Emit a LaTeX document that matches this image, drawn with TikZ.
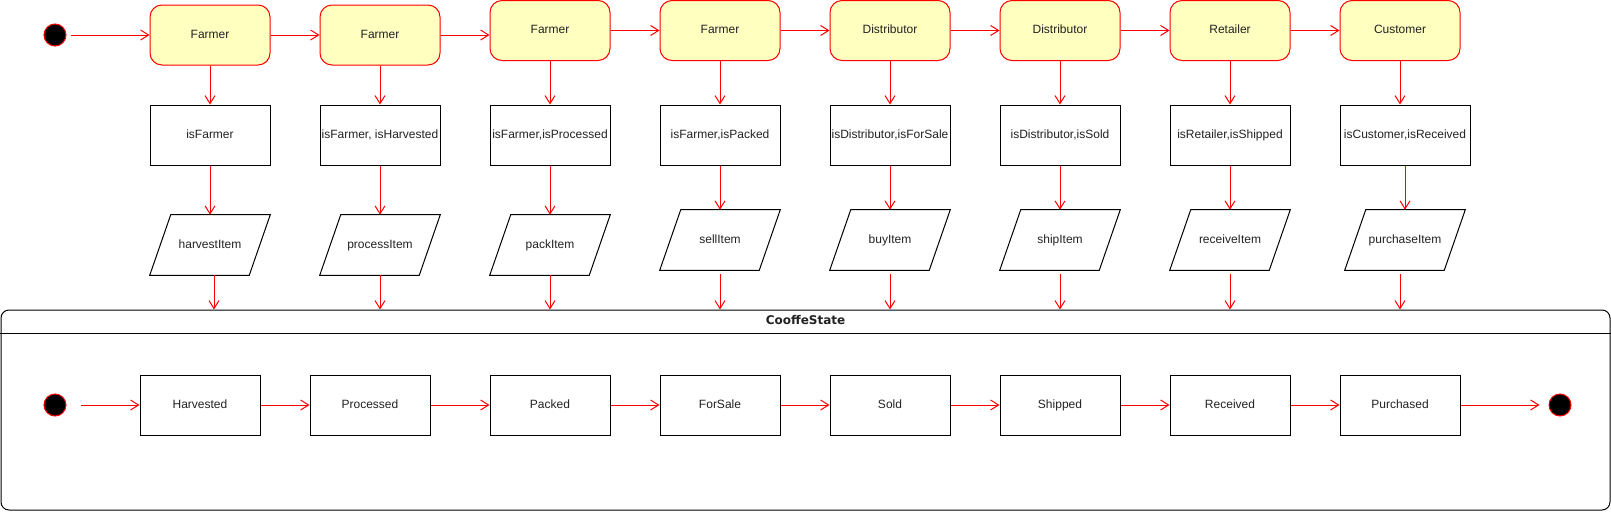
\documentclass[tikz,border=0pt]{standalone}
\usepackage{fontspec}
\setmainfont{Liberation Sans}
\newfontfamily\titlefont{DejaVu Sans}
\usetikzlibrary{arrows.meta,calc}
\definecolor{lnred}{HTML}{FF0000}
\definecolor{stfill}{HTML}{FFFFC0}
\definecolor{txtgray}{HTML}{222222}
\begin{document}
\begin{tikzpicture}[x=0.75pt,y=-0.75pt,
  every node/.style={font=\fontsize{9pt}{11pt}\selectfont, text=txtgray, text height=6.6pt, text depth=1.9pt},
  actor/.style={draw=lnred, fill=stfill, rounded corners=9pt, minimum width=90pt, minimum height=45pt, inner sep=0pt, line width=0.75pt},
  guard/.style={draw=black, minimum width=90pt, minimum height=45pt, inner sep=0pt, line width=0.75pt},
  paranode/.style={minimum width=90pt, minimum height=45pt, inner sep=0pt},
  stbox/.style={draw=black, minimum width=90pt, minimum height=45pt, inner sep=0pt, line width=0.75pt},
  dot/.style={circle, fill=black, draw=lnred, minimum size=16.5pt, inner sep=0pt, line width=0.75pt},
  flow/.style={draw=lnred, line width=0.75pt, -{Straight Barb[length=6pt,width=7.5pt]}},
]
\useasboundingbox (0,0) rectangle (1611,511);

% top row: actors
\node[dot] (init1) at (55,35) {};
\node[actor] (F1) at (210,35) {Farmer};
\node[actor] (F2) at (380,35) {Farmer};
\node[actor] (F3) at (550,30.5) {Farmer};
\node[actor] (F4) at (720,30.5) {Farmer};
\node[actor] (F5) at (890,30.5) {Distributor};
\node[actor] (F6) at (1060,30.5) {Distributor};
\node[actor] (F7) at (1230,30.5) {Retailer};
\node[actor] (F8) at (1400,30.5) {Customer};

% guards
\node[guard] (C1) at (210,135) {isFarmer};
\node[guard] (C2) at (380,135) {isFarmer, isHarvested};
\node[guard] (C3) at (550,135) {isFarmer,isProcessed};
\node[guard] (C4) at (720,135) {isFarmer,isPacked};
\node[guard] (C5) at (890,135) {isDistributor,isForSale};
\node[guard] (C6) at (1060,135) {isDistributor,isSold};
\node[guard] (C7) at (1230,135) {isRetailer,isShipped};
\node[guard, minimum width=97.5pt] (C8) at (1405,135) {isCustomer,isReceived};

% functions (parallelograms)
\node[paranode] (P1) at (210,245) {harvestItem};
\node[paranode] (P2) at (380,245) {processItem};
\node[paranode] (P3) at (550,245) {packItem};
\node[paranode] (P4) at (720,240) {sellItem};
\node[paranode] (P5) at (890,240) {buyItem};
\node[paranode] (P6) at (1060,240) {shipItem};
\node[paranode] (P7) at (1230,240) {receiveItem};
\node[paranode] (P8) at (1405,240) {purchaseItem};
\foreach \p in {P1,P2,P3,P4,P5,P6,P7,P8}
  \draw[line width=0.75pt] ($(\p.north west)+(21,0)$) -- (\p.north east) -- ($(\p.south east)-(21,0)$) -- (\p.south west) -- cycle;

% container
\node[draw=black, rounded corners=6pt, minimum width=1206.75pt, minimum height=150pt, inner sep=0pt, line width=0.75pt] (cs) at (805.5,410) {};
\coordinate (hl) at (0,333);
\draw[line width=0.75pt] (cs.west |- hl) -- (cs.east |- hl);
\node[font=\titlefont\bfseries\fontsize{9pt}{11pt}\selectfont] (cstitle) at (805.5,321.5) {CooffeState};

% inner states
\node[dot] (init2) at (55,405) {};
\node[stbox] (S1) at (200,405) {Harvested};
\node[stbox] (S2) at (370,405) {Processed};
\node[stbox] (S3) at (550,405) {Packed};
\node[stbox] (S4) at (720,405) {ForSale};
\node[stbox] (S5) at (890,405) {Sold};
\node[stbox] (S6) at (1060,405) {Shipped};
\node[stbox] (S7) at (1230,405) {Received};
\node[stbox] (S8) at (1400,405) {Purchased};
\node[dot] (final) at (1560,405) {};

% top connectors
\draw[flow, shorten <=3pt] (init1) -- (F1);
\foreach \a/\b in {F1/F2,F2/F3,F3/F4,F4/F5,F5/F6,F6/F7,F7/F8}
  \draw[flow] (\a.east) -- (\a.east -| \b.west);
\foreach \i in {1,...,8}
  \draw[flow] (F\i.south) -- (F\i.south |- C\i.north);
\foreach \i in {1,...,8}
  \draw[flow] (C\i.south) -- (C\i.south |- P\i.north);

% into container
\coordinate (a1) at ($(P1.south)+(4,0)$);
\draw[flow] (a1) -- (a1 |- cs.north);
\draw[flow] (P2.south) -- (P2.south |- cs.north);
\draw[flow] (P3.south) -- (P3.south |- cs.north);
\foreach \i in {4,...,7}
  \draw[flow, shorten <=3pt] (P\i.south) -- (P\i.south |- cs.north);
\coordinate (a8) at ($(P8.south)+(-5,0)$);
\draw[flow, shorten <=3pt] (a8) -- (a8 |- cs.north);

% inner connectors
\draw[flow, shorten <=10.5pt] (init2) -- (S1);
\foreach \a/\b in {S1/S2,S2/S3,S3/S4,S4/S5,S5/S6,S6/S7,S7/S8}
  \draw[flow] (\a.east) -- (\b.west);
\draw[flow, shorten >=6.75pt] (S8) -- (final);
\end{tikzpicture}
\end{document}
